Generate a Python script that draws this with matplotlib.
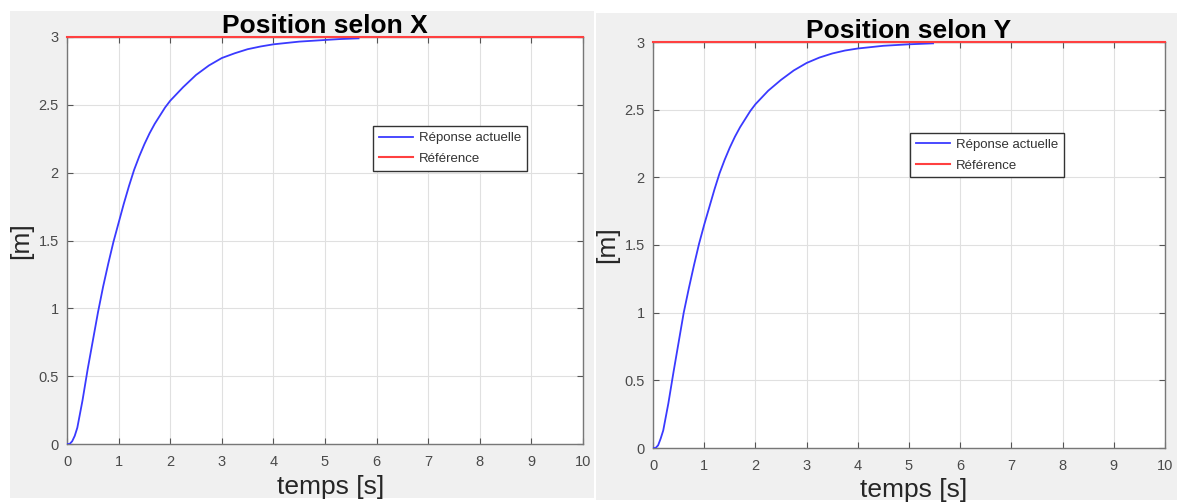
import matplotlib
matplotlib.use("Agg")
import matplotlib.pyplot as plt
from matplotlib.patches import Rectangle

plt.rcParams['font.family'] = ['Liberation Sans', 'DejaVu Sans']

# ---- data ----
t_x = [0.0, 0.05, 0.1, 0.15, 0.2, 0.3, 0.4, 0.5, 0.6, 0.7, 0.8, 0.9, 1.0, 1.1, 1.2,
       1.3, 1.4, 1.5, 1.6, 1.7, 1.8, 1.9, 2.0, 2.25, 2.5, 2.75, 3.0, 3.25, 3.5,
       3.75, 4.0, 4.5, 5.0, 5.3, 5.65]
pos_x = [0.0, 0.0, 0.02, 0.06, 0.12, 0.32, 0.55, 0.76, 0.97, 1.16, 1.33, 1.49, 1.63,
         1.77, 1.90, 2.02, 2.12, 2.21, 2.29, 2.36, 2.42, 2.48, 2.53, 2.63, 2.72,
         2.79, 2.845, 2.88, 2.91, 2.93, 2.946, 2.966, 2.978, 2.985, 2.99]

t_y = [0.0, 0.05, 0.1, 0.15, 0.2, 0.3, 0.4, 0.5, 0.6, 0.7, 0.8, 0.9, 1.0, 1.1, 1.2,
       1.3, 1.4, 1.5, 1.6, 1.7, 1.8, 1.9, 2.0, 2.25, 2.5, 2.75, 3.0, 3.25, 3.5,
       3.75, 4.0, 4.5, 5.0, 5.47]
pos_y = [0.0, 0.0, 0.02, 0.07, 0.13, 0.33, 0.56, 0.78, 1.0, 1.18, 1.35, 1.51, 1.65,
         1.78, 1.91, 2.03, 2.13, 2.22, 2.30, 2.37, 2.43, 2.49, 2.54, 2.64, 2.72,
         2.79, 2.845, 2.885, 2.915, 2.937, 2.952, 2.972, 2.983, 2.99]

ref_t = [0, 10]
ref_val = [3, 3]

titles = ["Position selon X", "Position selon Y"]
xlabel = "temps [s]"
ylabel = "[m]"
leg_labels = ["Réponse actuelle", "Référence"]
xticks = list(range(0, 11))
yticks = [0, 0.5, 1, 1.5, 2, 2.5, 3]
ytick_labels = ["0", "0.5", "1", "1.5", "2", "2.5", "3"]

W, H = 1180, 504
fig = plt.figure(figsize=(W / 100, H / 100), dpi=100, facecolor="white")

# gray MATLAB figure backgrounds
for (x0, y0, x1, y1) in [(10, 11, 594, 498), (596, 13, 1177, 500)]:
    fig.patches.append(Rectangle((x0 / W, 1 - y1 / H), (x1 - x0) / W, (y1 - y0) / H,
                                 transform=fig.transFigure, facecolor="#f0f0f0",
                                 edgecolor="none", zorder=-5))

axes_px = [(67, 37, 583, 444), (653, 42, 1165, 448)]
legend_anchor = [(0.593, 0.781), (0.502, 0.776)]
series = [(t_x, pos_x), (t_y, pos_y)]

for i, (x0, y0, x1, y1) in enumerate(axes_px):
    ax = fig.add_axes([x0 / W, 1 - y1 / H, (x1 - x0) / W, (y1 - y0) / H])
    ax.set_facecolor("white")
    t, p = series[i]
    ax.plot(t, p, color="#3a3aff", lw=1.3, label=leg_labels[0], zorder=3)
    ax.plot(ref_t, ref_val, color="#ff4040", lw=1.5, label=leg_labels[1], zorder=3,
            clip_on=False)
    ax.set_xlim(0, 10)
    ax.set_ylim(0, 3)
    ax.set_xticks(xticks)
    ax.set_yticks(yticks)
    ax.set_yticklabels(ytick_labels)
    ax.grid(True, color="#e0e0e0", lw=0.8)
    ax.set_axisbelow(True)
    for s in ax.spines.values():
        s.set_color("#777777")
        s.set_linewidth(1.0)
    ax.tick_params(direction="in", length=4, width=0.8, color="#555555",
                   top=True, right=True, labelsize=10.5, labelcolor="#4a4a4a")
    ax.tick_params(axis="x", pad=8)
    ax.tick_params(axis="y", pad=6)
    ax.set_title(titles[i], fontsize=19, fontweight="bold", pad=3)
    ax.set_xlabel(xlabel, fontsize=19, color="#262626", labelpad=3)
    ax.xaxis.set_label_coords(0.51, -0.075)
    ax.set_ylabel(ylabel, fontsize=19, color="#262626", labelpad=4)
    leg = ax.legend(loc="upper left", bbox_to_anchor=legend_anchor[i], borderaxespad=0,
                    fontsize=9.5, frameon=True, fancybox=False, framealpha=1,
                    edgecolor="#333333", handlelength=2.6, handletextpad=0.45,
                    labelspacing=0.62, borderpad=0.45)
    leg.get_frame().set_linewidth(1.0)
    for txt in leg.get_texts():
        txt.set_color("#333333")

fig.savefig("out.png", dpi=100, facecolor="white")
